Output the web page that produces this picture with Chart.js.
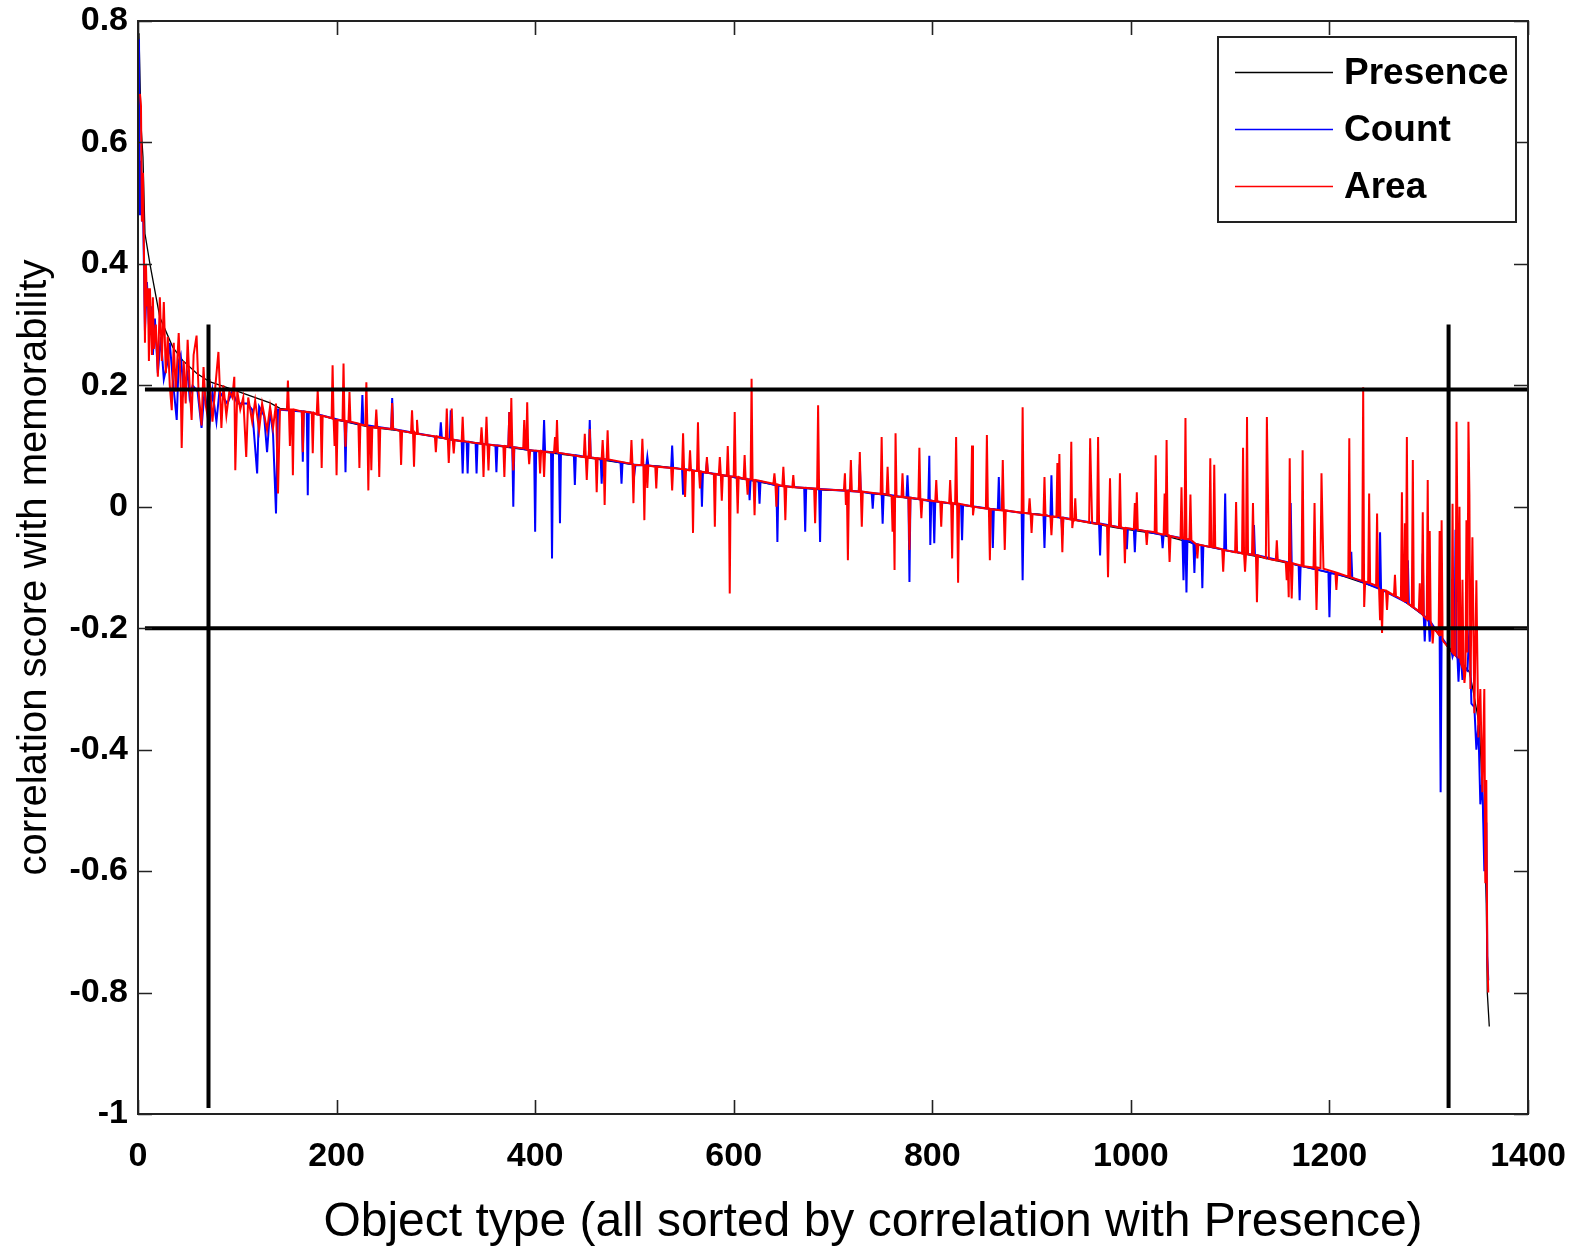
<!DOCTYPE html>
<html>
<head>
<meta charset="utf-8">
<script src="https://cdn.jsdelivr.net/npm/chart.js@4.4.0/dist/chart.umd.min.js"></script>
<style>
  html, body { margin: 0; padding: 0; background: #fff; }
  #wrap { width: 1576px; height: 1253px; }
</style>
</head>
<body>
<div id="wrap"><canvas id="chart" width="1576" height="1253"></canvas></div>
<script>
// axis ticks
const xTicks = [0, 200, 400, 600, 800, 1000, 1200, 1400];
const yTicks = [-1, -0.8, -0.6, -0.4, -0.2, 0, 0.2, 0.4, 0.6, 0.8];
const yTickLabels = ['-1', '-0.8', '-0.6', '-0.4', '-0.2', '0', '0.2', '0.4', '0.6', '0.8'];

// [object rank, correlation]
const presence = [
  [1, 0.78], [3, 0.63], [5, 0.576], [7, 0.45], [12, 0.40], [22, 0.312], [35, 0.263], [45, 0.241],
  [59, 0.22], [72, 0.206], [92, 0.195], [133, 0.171], [143, 0.162], [173, 0.156], [200, 0.143],
  [233, 0.131], [260, 0.126], [290, 0.118], [317, 0.110], [349, 0.103], [395, 0.093], [443, 0.083],
  [500, 0.069], [525, 0.067], [563, 0.059], [608, 0.046], [648, 0.034], [694, 0.027], [717, 0.027],
  [757, 0.018], [802, 0.009], [843, 0.0], [891, -0.010], [908, -0.012], [943, -0.022], [987, -0.035],
  [1028, -0.045], [1062, -0.060], [1093, -0.071], [1130, -0.083], [1167, -0.096], [1210, -0.112],
  [1251, -0.135], [1274, -0.154], [1284, -0.166], [1294, -0.178], [1304, -0.197], [1314, -0.22],
  [1324, -0.241], [1331, -0.252], [1341, -0.272], [1344, -0.296], [1351, -0.36], [1354, -0.466],
  [1357, -0.593], [1358, -0.653], [1359, -0.80], [1361, -0.856]
];

const count = [
  [1, 0.77], [2, 0.48], [3, 0.57], [4, 0.47], [5, 0.50], [7, 0.29], [9, 0.37], [11, 0.30], [13, 0.33],
  [15, 0.25], [17, 0.31], [20, 0.22], [23, 0.28], [26, 0.21], [30, 0.24], [32, 0.27], [35, 0.21],
  [39, 0.143], [41, 0.24], [43, 0.25], [46, 0.19], [50, 0.22], [52, 0.18], [55, 0.2], [60, 0.19],
  [64, 0.13], [67, 0.19], [72, 0.135], [75, 0.19], [79, 0.14], [82, 0.19], [90, 0.17], [95, 0.19],
  [100, 0.17], [110, 0.17], [115, 0.16], [120, 0.055], [122, 0.165], [127, 0.15], [130, 0.09],
  [133, 0.16], [136, 0.12], [139, -0.011], [141, 0.16],
  [165, 0.157], [166, 0.074], [167, 0.157], [170, 0.156], [171, 0.019], [172, 0.156], [208, 0.141],
  [209, 0.057], [210, 0.141], [225, 0.135], [226, 0.184], [227, 0.135], [255, 0.128], [256, 0.179],
  [257, 0.128], [304, 0.114], [305, 0.139], [306, 0.114], [314, 0.111], [315, 0.159], [316, 0.111],
  [326, 0.108], [327, 0.055], [328, 0.108], [331, 0.107], [332, 0.055], [333, 0.107], [340, 0.105],
  [341, 0.055], [342, 0.105], [360, 0.101], [361, 0.057], [362, 0.101], [373, 0.099], [374, 0.156],
  [375, 0.099], [377, 0.098], [378, 0.0], [379, 0.098], [399, 0.092], [400, -0.041], [401, 0.092],
  [408, 0.091], [409, 0.143], [410, 0.091], [416, 0.09], [417, -0.085], [418, 0.09], [424, 0.088],
  [425, -0.027], [426, 0.088], [439, 0.085], [440, 0.036], [441, 0.085], [454, 0.081], [455, 0.143],
  [456, 0.081], [466, 0.079], [467, 0.038], [468, 0.079], [486, 0.073], [487, 0.038], [488, 0.073],
  [499, 0.07], [500, 0.055], [501, 0.069], [512, 0.068], [513, 0.082], [514, 0.068],
  [537, 0.064], [538, 0.101], [539, 0.064], [548, 0.062], [549, 0.02], [550, 0.062], [567, 0.058],
  [568, 0.0], [569, 0.057], [572, 0.056], [573, 0.075], [574, 0.056], [615, 0.045], [616, 0.011],
  [617, 0.045], [625, 0.042], [626, 0.005], [627, 0.042], [643, 0.035], [644, -0.058], [645, 0.035],
  [671, 0.031], [672, -0.041], [673, 0.031], [686, 0.029], [687, -0.058], [688, 0.029],
  [726, 0.025], [727, 0.07], [728, 0.025], [739, 0.022], [740, -0.003], [741, 0.022], [749, 0.021],
  [750, -0.028], [751, 0.021], [774, 0.015], [775, 0.052], [776, 0.015], [777, -0.124], [778, 0.015],
  [796, 0.01], [797, 0.084], [798, -0.063], [799, 0.01], [801, 0.009], [802, -0.06], [803, 0.009],
  [829, 0.003], [830, -0.055], [831, 0.003], [860, -0.004], [861, -0.068], [862, -0.004], [866, -0.005],
  [867, 0.049], [868, -0.005], [890, -0.01], [891, -0.121], [892, -0.01], [912, -0.014], [913, -0.068],
  [914, -0.014], [919, -0.016], [920, 0.052], [921, -0.016], [930, -0.018], [931, -0.047], [932, -0.018],
  [968, -0.028], [969, -0.08], [970, -0.028], [995, -0.036], [996, -0.07], [997, -0.036], [1003, -0.037],
  [1004, -0.075], [1005, -0.037], [1031, -0.046], [1032, -0.068], [1033, -0.046], [1052, -0.052],
  [1053, -0.121], [1054, -0.053], [1055, -0.053], [1056, -0.141], [1057, -0.054], [1063, -0.061],
  [1064, -0.109], [1065, -0.061], [1071, -0.064], [1072, -0.134], [1073, -0.064], [1094, -0.071],
  [1095, 0.022], [1096, -0.072], [1123, -0.079], [1124, -0.03], [1125, -0.079], [1160, -0.092],
  [1161, 0.006], [1162, -0.093], [1169, -0.097], [1170, -0.154], [1171, -0.097], [1199, -0.108],
  [1200, -0.182], [1201, -0.109], [1221, -0.116], [1222, -0.074], [1223, -0.117], [1250, -0.135],
  [1251, -0.042], [1252, -0.136], [1278, -0.158], [1279, -0.088], [1280, -0.16], [1293, -0.176],
  [1294, -0.077], [1295, -0.18], [1296, -0.222], [1297, -0.182], [1300, -0.187], [1301, -0.222],
  [1302, -0.19], [1311, -0.212], [1312, -0.47], [1313, -0.215], [1323, -0.238], [1324, -0.247],
  [1325, -0.242], [1326, -0.243], [1327, -0.038], [1328, -0.246], [1329, -0.25], [1330, -0.288],
  [1331, -0.252], [1333, -0.26], [1334, -0.285], [1335, -0.265], [1339, -0.27], [1341, -0.2],
  [1343, -0.324], [1346, -0.33], [1348, -0.40], [1350, -0.36], [1352, -0.49], [1354, -0.45],
  [1356, -0.60], [1358, -0.52], [1359, -0.74], [1360, -0.78]
];

const area = [
  [2, 0.68], [3, 0.66], [4, 0.47], [5, 0.55], [6, 0.42], [7, 0.27], [8, 0.40], [9, 0.33], [10, 0.36],
  [11, 0.24], [12, 0.36], [14, 0.25], [15, 0.345], [16, 0.26], [18, 0.30], [20, 0.214], [22, 0.345],
  [24, 0.24], [26, 0.337], [28, 0.22], [30, 0.28], [32, 0.20], [34, 0.159], [36, 0.27], [38, 0.19],
  [41, 0.286], [43, 0.20], [44, 0.097], [46, 0.24], [48, 0.17], [50, 0.275], [52, 0.20], [54, 0.143],
  [56, 0.25], [59, 0.282], [61, 0.19], [64, 0.134], [66, 0.23], [68, 0.17], [70, 0.15], [72, 0.21],
  [75, 0.14], [78, 0.2], [81, 0.255], [84, 0.13], [86, 0.2], [89, 0.15], [92, 0.19], [95, 0.18],
  [97, 0.214], [98, 0.06], [100, 0.19], [103, 0.16], [106, 0.18], [109, 0.082], [111, 0.18],
  [115, 0.14], [118, 0.175], [122, 0.126], [125, 0.17], [130, 0.126], [133, 0.165], [136, 0.13],
  [139, 0.17], [141, 0.022], [143, 0.16],
  [146, 0.16], [150, 0.16], [151, 0.208], [152, 0.16], [153, 0.10], [154, 0.16], [155, 0.16],
  [156, 0.052], [157, 0.16], [165, 0.157], [166, 0.09], [167, 0.157], [175, 0.155], [176, 0.088],
  [177, 0.155], [180, 0.152], [181, 0.192], [182, 0.152], [184, 0.15], [185, 0.064], [186, 0.15],
  [195, 0.146], [196, 0.233], [197, 0.146], [198, 0.10], [199, 0.144], [200, 0.052], [201, 0.143],
  [206, 0.142], [207, 0.236], [208, 0.142], [209, 0.099], [210, 0.141], [212, 0.14], [213, 0.189],
  [214, 0.14], [222, 0.137], [223, 0.064], [224, 0.136], [229, 0.134], [230, 0.205], [231, 0.133],
  [232, 0.027], [233, 0.131], [234, 0.131], [235, 0.06], [236, 0.131], [239, 0.13], [240, 0.16],
  [241, 0.13], [242, 0.13], [243, 0.049], [244, 0.13], [255, 0.128], [256, 0.171], [257, 0.128],
  [264, 0.125], [265, 0.069], [266, 0.125], [275, 0.122], [276, 0.159], [277, 0.122], [278, 0.066],
  [279, 0.122], [280, 0.12], [281, 0.143], [282, 0.12], [299, 0.116], [300, 0.09], [301, 0.116],
  [310, 0.112], [311, 0.162], [312, 0.112], [313, 0.072], [314, 0.111], [315, 0.111], [316, 0.162],
  [317, 0.11], [318, 0.088], [319, 0.11], [326, 0.108], [327, 0.148], [328, 0.108],
  [345, 0.104], [346, 0.131], [347, 0.104], [348, 0.049], [349, 0.103], [350, 0.103], [351, 0.148],
  [352, 0.103], [353, 0.06], [354, 0.102], [368, 0.1], [369, 0.049], [370, 0.1], [373, 0.099],
  [374, 0.156], [375, 0.099], [376, 0.179], [377, 0.099], [378, 0.06], [379, 0.098], [388, 0.096],
  [389, 0.143], [390, 0.096], [391, 0.095], [392, 0.172], [393, 0.095], [394, 0.07], [395, 0.093],
  [404, 0.092], [405, 0.055], [406, 0.092], [408, 0.091], [409, 0.049], [410, 0.091], [419, 0.089],
  [420, 0.115], [421, 0.089], [422, 0.143], [423, 0.089], [449, 0.082], [450, 0.12], [451, 0.082],
  [452, 0.044], [453, 0.082], [454, 0.081], [455, 0.128], [456, 0.081], [461, 0.08], [462, 0.024],
  [463, 0.08], [467, 0.079], [468, 0.11], [469, 0.079], [470, 0.003], [471, 0.078], [472, 0.078],
  [473, 0.126], [474, 0.078], [496, 0.071], [497, 0.11], [498, 0.071], [499, 0.006], [500, 0.069],
  [507, 0.069], [508, 0.112], [509, 0.069], [510, -0.022], [511, 0.068], [512, 0.068], [513, 0.031],
  [514, 0.068],
  [521, 0.066], [522, 0.03], [523, 0.066], [537, 0.064], [538, 0.027], [539, 0.064], [548, 0.062],
  [549, 0.121], [550, 0.062], [551, 0.016], [552, 0.061], [555, 0.06], [556, 0.093], [557, 0.06],
  [558, 0.06], [559, -0.043], [560, 0.059], [563, 0.059], [564, 0.139], [565, 0.058], [566, 0.03],
  [567, 0.058], [572, 0.056], [573, 0.082], [574, 0.056], [580, 0.054], [581, -0.033], [582, 0.054],
  [585, 0.053], [586, 0.082], [587, 0.053], [588, 0.01], [589, 0.052], [593, 0.051], [594, 0.10],
  [595, 0.051], [596, -0.143], [597, 0.05], [600, 0.05], [601, 0.156], [602, 0.05], [603, 0.049],
  [604, -0.011], [605, 0.049], [610, 0.046], [611, 0.085], [612, 0.046], [613, 0.046], [614, 0.02],
  [615, 0.045], [617, 0.045], [618, 0.211], [619, 0.045], [620, 0.044], [621, -0.014], [622, 0.044],
  [640, 0.038], [641, 0.055], [642, 0.037], [643, 0.0], [644, 0.037], [649, 0.034], [650, 0.066],
  [651, 0.034], [652, -0.022], [653, 0.034], [659, 0.032], [660, 0.052], [661, 0.032], [681, 0.03],
  [682, -0.027], [683, 0.03], [684, 0.03], [685, 0.167], [686, 0.029], [711, 0.027], [712, 0.055],
  [713, 0.003], [714, 0.027], [715, -0.088], [716, 0.027],
  [717, 0.027], [718, 0.077], [719, 0.026], [726, 0.025], [727, 0.09], [728, 0.025], [729, -0.033],
  [730, 0.025], [748, 0.021], [749, 0.115], [750, 0.021], [754, 0.02], [755, 0.066], [756, 0.02],
  [759, 0.018], [760, -0.041], [761, 0.018], [762, -0.104], [763, 0.121], [764, 0.017], [769, 0.016],
  [770, 0.055], [771, 0.016], [776, 0.015], [777, -0.071], [778, 0.015], [786, 0.013], [787, 0.097],
  [788, 0.013], [789, -0.019], [790, 0.012], [803, 0.009], [804, 0.044], [805, 0.009], [808, 0.008],
  [809, -0.033], [810, 0.008], [817, 0.006], [818, 0.044], [819, 0.006], [820, -0.085], [821, 0.006],
  [823, 0.005], [824, 0.115], [825, 0.005], [826, -0.125], [827, 0.005], [839, 0.001], [840, 0.101],
  [841, -0.014], [842, 0.0], [854, -0.003], [855, 0.118], [856, -0.003], [857, -0.003], [858, -0.088],
  [859, -0.004], [870, -0.006], [871, 0.077], [872, -0.006], [873, -0.071], [874, -0.006], [890, -0.01],
  [891, 0.164], [892, -0.01], [897, -0.011], [898, 0.014], [899, -0.011], [900, -0.043], [901, -0.012],
  [912, -0.014], [913, 0.049], [914, -0.014], [919, -0.016], [920, -0.047], [921, -0.016], [925, -0.017],
  [926, 0.072], [927, -0.017], [928, 0.087], [929, -0.018], [930, -0.018], [931, -0.075], [932, -0.018],
  [939, -0.021], [940, 0.107], [941, -0.035], [942, -0.021], [943, -0.022], [944, 0.014], [945, -0.022],
  [958, -0.026], [959, 0.113], [960, 0.04], [961, -0.027], [966, -0.028], [967, 0.115], [968, -0.028],
  [976, -0.031], [977, -0.116], [978, -0.031], [979, 0.047], [980, -0.031], [988, -0.034], [989, 0.055],
  [990, -0.034], [993, -0.035], [994, -0.093], [995, -0.035], [1003, -0.037], [1004, 0.006],
  [1005, -0.037], [1006, 0.024], [1007, -0.038], [1015, -0.04], [1016, -0.063], [1017, -0.04],
  [1024, -0.042], [1025, 0.085], [1026, -0.043], [1033, -0.046], [1034, 0.022], [1035, -0.047],
  [1036, 0.11], [1037, -0.047], [1038, -0.047], [1039, -0.091], [1040, -0.048], [1050, -0.052],
  [1051, 0.032], [1052, -0.052], [1054, -0.053], [1055, 0.146], [1056, -0.053], [1059, -0.054],
  [1060, 0.02], [1061, -0.055], [1066, -0.062], [1067, -0.085], [1068, -0.062], [1079, -0.066],
  [1080, 0.08], [1081, -0.066], [1083, -0.067], [1084, 0.069], [1085, -0.067], [1092, -0.07],
  [1093, -0.107], [1094, -0.071],
  [1105, -0.075], [1106, 0.008], [1107, -0.075], [1112, -0.077], [1113, 0.097], [1114, -0.077],
  [1115, -0.107], [1116, -0.077], [1117, 0.148], [1118, -0.078], [1122, -0.079], [1123, 0.006],
  [1124, -0.079], [1126, -0.08], [1127, -0.157], [1128, -0.08], [1136, -0.085], [1137, 0.148],
  [1138, 0.032], [1139, -0.086], [1146, -0.088], [1147, -0.055], [1148, -0.088], [1156, -0.091],
  [1157, -0.121], [1158, -0.091], [1159, -0.149], [1160, 0.08], [1161, -0.092], [1162, -0.151],
  [1163, -0.093], [1172, -0.097], [1173, 0.093], [1174, -0.098], [1184, -0.1], [1185, 0.006],
  [1186, -0.1], [1187, -0.17], [1188, -0.1], [1191, -0.101], [1192, 0.055], [1193, -0.027],
  [1194, -0.102], [1206, -0.108], [1207, -0.137], [1208, -0.109], [1219, -0.115], [1220, 0.113],
  [1221, -0.116], [1233, -0.122], [1234, 0.197], [1235, -0.165], [1236, -0.123], [1239, -0.125],
  [1240, 0.022], [1241, -0.126], [1247, -0.13], [1248, -0.011], [1249, -0.131], [1250, -0.135],
  [1251, -0.187], [1252, -0.136], [1253, -0.208], [1254, -0.137], [1257, -0.138], [1258, -0.17],
  [1259, -0.14], [1265, -0.146], [1266, -0.112], [1267, -0.147],
  [1272, -0.152], [1273, 0.024], [1274, -0.154], [1275, -0.155], [1276, -0.027], [1277, -0.157],
  [1278, 0.115], [1279, -0.159], [1283, -0.164], [1284, 0.077], [1285, -0.166], [1290, -0.172],
  [1291, -0.126], [1292, -0.174], [1293, -0.176], [1294, -0.009], [1295, -0.18], [1298, -0.185],
  [1299, 0.044], [1300, -0.187], [1301, -0.04], [1302, -0.19], [1303, -0.195], [1304, -0.225],
  [1305, -0.2], [1310, -0.21], [1311, -0.04], [1312, -0.213], [1313, -0.022], [1314, -0.22],
  [1323, -0.238], [1324, 0.005], [1325, -0.242], [1327, -0.245], [1328, 0.14], [1329, -0.05],
  [1330, -0.25], [1331, 0.0], [1332, -0.255], [1333, -0.26], [1334, -0.12], [1335, -0.265],
  [1336, -0.29], [1337, -0.27], [1338, -0.022], [1339, -0.24], [1340, 0.14], [1341, 0.02],
  [1342, -0.3], [1344, -0.05], [1346, -0.34], [1348, -0.121], [1350, -0.38], [1352, -0.30],
  [1354, -0.47], [1356, -0.30], [1357, -0.62], [1358, -0.45], [1359, -0.74], [1360, -0.80]
];

// cut-off lines: horizontal correlation levels and vertical rank positions
const levelCuts = [0.193, -0.2];
const rankCuts = [71, 1320];

const FONT = "'Liberation Sans', Arial, Helvetica, sans-serif";
Chart.defaults.font.family = FONT;
Chart.defaults.color = '#000';

const toXY = pts => pts.map(([x, y]) => ({ x, y }));

function series(label, pts, color, width, order) {
  return {
    label,
    data: toXY(pts),
    borderColor: color,
    backgroundColor: color,
    borderWidth: width,
    pointRadius: 0,
    showLine: true,
    tension: 0,
    order
  };
}

// boxed axes with inward ticks on all four sides, x title, legend box
const framePlugin = {
  id: 'frame',
  afterDraw(chart) {
    const { ctx, chartArea: a, scales } = chart;
    const tick = 14;
    ctx.save();
    ctx.strokeStyle = '#222';
    ctx.lineWidth = 1.6;
    ctx.beginPath();
    xTicks.forEach(v => {
      const x = Math.round(scales.x.getPixelForValue(v)) + 0.5;
      ctx.moveTo(x, a.bottom); ctx.lineTo(x, a.bottom - tick);
      ctx.moveTo(x, a.top); ctx.lineTo(x, a.top + tick);
    });
    yTicks.forEach(v => {
      const y = Math.round(scales.y.getPixelForValue(v)) + 0.5;
      ctx.moveTo(a.left, y); ctx.lineTo(a.left + tick, y);
      ctx.moveTo(a.right, y); ctx.lineTo(a.right - tick, y);
    });
    ctx.stroke();
    ctx.lineWidth = 2;
    ctx.strokeRect(a.left, a.top, a.right - a.left, a.bottom - a.top);

    // x axis title, set a little right of the axis centre
    ctx.fillStyle = '#000';
    ctx.font = '48px ' + FONT;
    ctx.textAlign = 'center';
    ctx.textBaseline = 'middle';
    ctx.fillText('Object type (all sorted by correlation with Presence)', 873, 1223);

    // legend
    const bw = 298, bh = 185;
    const bx = a.right - 12 - bw, by = a.top + 16;
    ctx.fillStyle = '#fff';
    ctx.fillRect(bx, by, bw, bh);
    ctx.strokeStyle = '#222';
    ctx.lineWidth = 2;
    ctx.strokeRect(bx, by, bw, bh);
    ctx.font = 'bold 37px ' + FONT;
    ctx.textAlign = 'left';
    chart.data.datasets.slice(0, 3).forEach((ds, i) => {
      const y = by + 35 + i * 57;
      ctx.strokeStyle = ds.borderColor;
      ctx.lineWidth = 1.3;
      ctx.beginPath();
      ctx.moveTo(bx + 17, y + 0.5);
      ctx.lineTo(bx + 115, y + 0.5);
      ctx.stroke();
      ctx.fillStyle = '#000';
      ctx.fillText(ds.label, bx + 126, y + 2);
    });
    ctx.restore();
  }
};

new Chart(document.getElementById('chart'), {
  type: 'scatter',
  data: {
    datasets: [
      series('Presence', presence, '#000000', 1.3, 3),
      series('Count', count, '#0000ff', 2, 2),
      series('Area', area, '#ff0000', 2, 1),
      ...levelCuts.map(v => series('', [[7, v], [1400, v]], '#000000', 4, 0)),
      ...rankCuts.map(v => series('', [[v, 0.3], [v, -0.99]], '#000000', 4, 0))
    ]
  },
  options: {
    responsive: false,
    animation: false,
    layout: { padding: { top: 21, right: 48, left: 0, bottom: 0 } },
    plugins: {
      legend: { display: false },
      tooltip: { enabled: false }
    },
    scales: {
      x: {
        type: 'linear',
        min: 0,
        max: 1400,
        afterBuildTicks: s => { s.ticks = xTicks.map(value => ({ value })); },
        afterFit: s => { s.height = 139; s.paddingLeft = 0; s.paddingRight = 0; },
        grid: { display: false, drawTicks: false },
        border: { display: false },
        ticks: {
          padding: 22,
          maxRotation: 0,
          autoSkip: false,
          font: { size: 34, weight: 'bold' },
          color: '#000',
          callback: v => String(v)
        },
        title: { display: false }
      },
      y: {
        type: 'linear',
        min: -1,
        max: 0.8,
        afterBuildTicks: s => { s.ticks = yTicks.map(value => ({ value })); },
        afterFit: s => { s.width = 138; s.paddingTop = 0; s.paddingBottom = 0; },
        grid: { display: false, drawTicks: false },
        border: { display: false },
        ticks: {
          padding: 10,
          autoSkip: false,
          font: { size: 34, weight: 'bold' },
          color: '#000',
          callback: (v, i) => yTickLabels[i]
        },
        title: {
          display: true,
          text: 'correlation score with memorability',
          font: { size: 40 },
          color: '#000',
          padding: { top: 11, bottom: 0 }
        }
      }
    }
  },
  plugins: [framePlugin]
});
</script>
</body>
</html>
